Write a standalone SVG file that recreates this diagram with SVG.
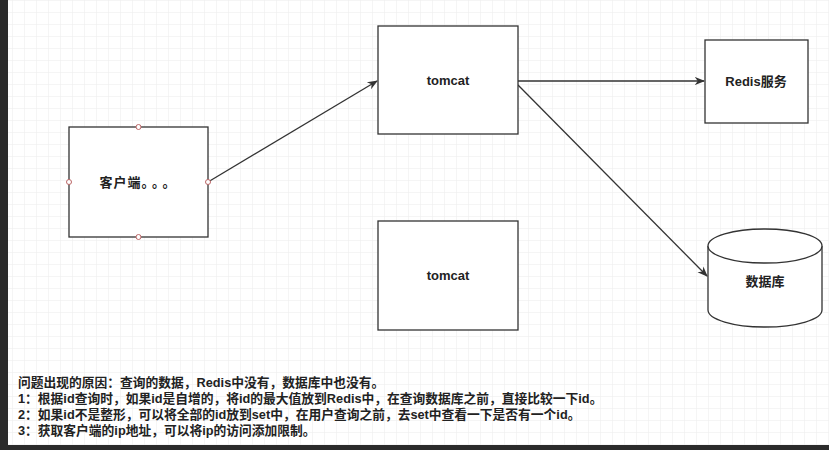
<svg xmlns="http://www.w3.org/2000/svg" width="829" height="450" viewBox="0 0 829 450">
<defs>
<pattern id="g" width="12" height="12" patternUnits="userSpaceOnUse"><path d="M12 0H0V12" fill="none" stroke="#ececec" stroke-width="1"/></pattern>
<marker id="a" viewBox="0 0 10 10" refX="9" refY="5" markerWidth="8" markerHeight="8" orient="auto"><path d="M0 1L10 5L0 9L3 5Z" fill="#333"/></marker>
</defs>
<style>
.b{fill:#fff;stroke:#333;stroke-width:1.3}
.t{font-family:"Liberation Sans","Noto Sans CJK SC",sans-serif;font-weight:bold;font-size:13px;fill:#222;text-anchor:middle}
.n{font-family:"Liberation Sans","Noto Sans CJK SC",sans-serif;font-weight:bold;font-size:12.75px;fill:#222}
.c{fill:none;stroke:#333;stroke-width:1.3}
.h{fill:#fff;stroke:#b66;stroke-width:1}
</style>
<rect width="829" height="450" fill="#2b2b2b"/>
<rect x="8" y="0" width="821" height="445" fill="#fff"/>
<rect x="8" y="0" width="821" height="445" fill="url(#g)"/>
<g id="edges">
<path class="c" d="M208 182L377 81" marker-end="url(#a)"/>
<path class="c" d="M518 81L704 81" marker-end="url(#a)"/>
<path class="c" d="M518 85L707 276" marker-end="url(#a)"/>
</g>
<g id="client"><rect class="b" x="69" y="127" width="139" height="110"/><text class="t" x="138" y="187" style="letter-spacing:1px">客户端<tspan dx="0">。</tspan><tspan dx="3">。</tspan><tspan dx="3">。</tspan></text>
<circle class="h" cx="138.5" cy="127" r="2.5"/><circle class="h" cx="138.5" cy="237" r="2.5"/><circle class="h" cx="69" cy="182" r="2.5"/><circle class="h" cx="208" cy="182" r="2.5"/></g>
<g id="tomcat1"><rect class="b" x="378" y="26" width="140" height="108"/><text class="t" x="448" y="85">tomcat</text></g>
<g id="tomcat2"><rect class="b" x="378" y="221" width="140" height="109"/><text class="t" x="448" y="280">tomcat</text></g>
<g id="redis"><rect class="b" x="705" y="40" width="103" height="83"/><text class="t" x="756" y="86">Redis服务</text></g>
<g id="db"><path class="b" d="M708 246V310A57 17 0 0 0 822 310V246"/><ellipse class="b" cx="765" cy="246" rx="57" ry="17"/><text class="t" x="765" y="286">数据库</text></g>
<g id="notes">
<text class="n" x="18" y="387">问题出现的原因：查询的数据，Redis中没有，数据库中也没有。</text>
<text class="n" x="18" y="403">1：根据id查询时，如果id是自增的，将id的最大值放到Redis中，在查询数据库之前，直接比较一下id。</text>
<text class="n" x="18" y="419">2：如果id不是整形，可以将全部的id放到set中，在用户查询之前，去set中查看一下是否有一个id。</text>
<text class="n" x="18" y="435">3：获取客户端的ip地址，可以将ip的访问添加限制。</text>
</g>
</svg>
